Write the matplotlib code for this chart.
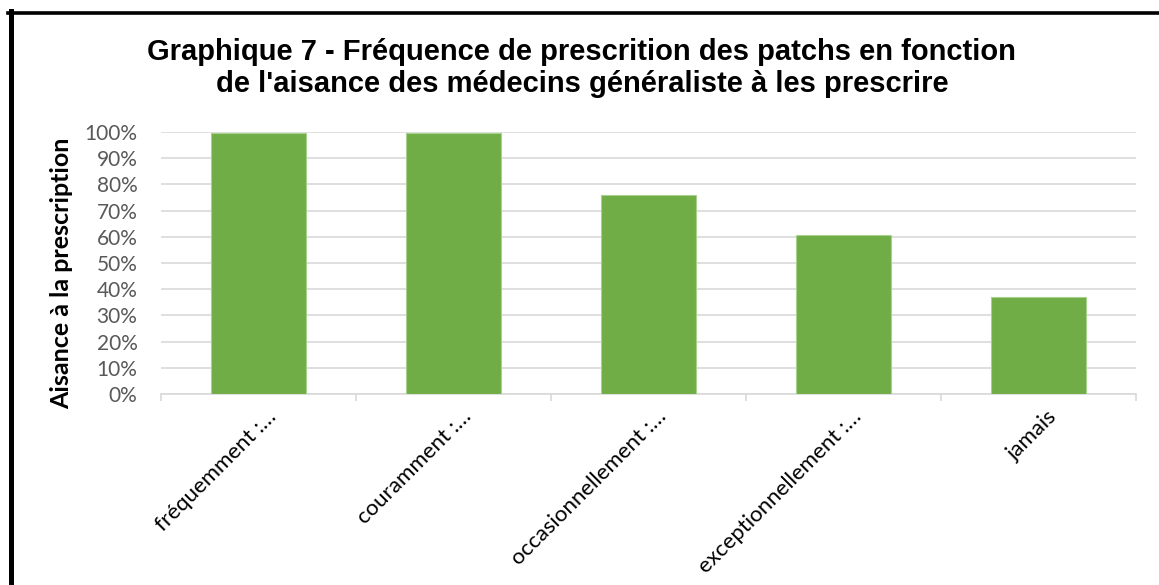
import numpy as np
import matplotlib
matplotlib.use("Agg")
import matplotlib.pyplot as plt
import matplotlib.transforms as mtransforms
from matplotlib.lines import Line2D
from matplotlib.ticker import PercentFormatter

# data
categories = ["fréquemment :…", "couramment :…", "occasionnellement :…",
              "exceptionnellement :…", "jamais"]
values = [0.995, 0.995, 0.758, 0.606, 0.369]

W, H = 1159, 585
fig = plt.figure(figsize=(W / 100, H / 100), dpi=100)
ax = fig.add_axes([161 / W, 1 - 394 / H, (1136 - 161) / W, (394 - 132) / H])

x = np.arange(len(categories))
ax.bar(x, values, width=0.49, color="#70ad47", edgecolor="#a9d18e",
       linewidth=0.8, zorder=3)

ax.set_xlim(-0.5, len(categories) - 0.5)
ax.set_ylim(0, 1)
ax.set_yticks(np.arange(0, 1.01, 0.1))
ax.yaxis.set_major_formatter(PercentFormatter(1.0, decimals=0))
ax.grid(axis="y", color="#d9d9d9", linewidth=1.2, zorder=0)
for s in ["top", "right", "left"]:
    ax.spines[s].set_visible(False)
ax.spines["bottom"].set_color("#d9d9d9")
ax.spines["bottom"].set_linewidth(1.2)

ax.tick_params(axis="y", length=0, pad=17, labelsize=15, labelcolor="#595959")
for lab in ax.get_yticklabels():
    lab.set_fontfamily("Lato")

# category ticks sit on slot boundaries
ax.set_xticks(np.arange(-0.5, len(categories), 1.0), minor=True)
ax.tick_params(axis="x", which="minor", length=5, color="#d9d9d9", width=1.2)
ax.set_xticks(x)
ax.set_xticklabels(categories, rotation=45, ha="right", rotation_mode="anchor",
                   fontsize=16, family="Lato", color="black")
ax.tick_params(axis="x", which="major", length=0, pad=9)
offset = mtransforms.ScaledTranslation(8 / 100, 0, fig.dpi_scale_trans)
for lab in ax.get_xticklabels():
    lab.set_transform(lab.get_transform() + offset)

fig.text(62 / W, 1 - 273.5 / H, "Aisance à la prescription", rotation=90,
         ha="center", va="center", fontsize=18, fontweight="bold",
         family="Lato")

fig.text(0.502, 1 - 38 / H,
         "Graphique 7 - Fréquence de prescrition des patchs en fonction\n"
         "de l'aisance des médecins généraliste à les prescrire",
         ha="center", va="top", fontsize=21, fontweight="bold",
         family="Liberation Sans", linespacing=1.18)

# frame on left and top
fig.add_artist(Line2D([10.5 / W, 10.5 / W], [0, 1 - 11 / H], color="black",
                      linewidth=3.6, transform=fig.transFigure))
fig.add_artist(Line2D([8 / W, 1], [1 - 12.5 / H, 1 - 12.5 / H], color="black",
                      linewidth=2.6, transform=fig.transFigure))

fig.savefig("out.png", dpi=100)
